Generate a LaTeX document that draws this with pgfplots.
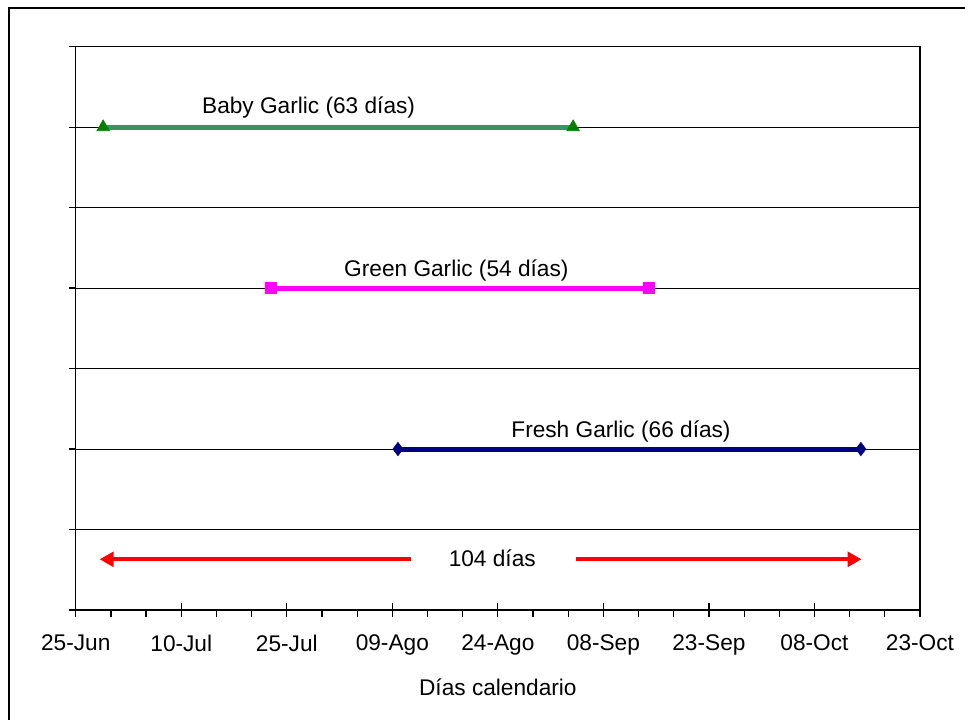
\documentclass[border=0pt]{standalone}
\usepackage{fontspec}
\setmainfont{Liberation Sans}
\usepackage{pgfplots}
\pgfplotsset{compat=1.18}
\usetikzlibrary{arrows.meta}

\definecolor{babyline}{RGB}{51,150,96}
\definecolor{babymark}{RGB}{0,128,0}
\definecolor{navyline}{RGB}{0,0,128}
\definecolor{pinkline}{RGB}{255,0,255}

\begin{document}
\begin{tikzpicture}
% page is 965x720 px at 0.75pt per px
\useasboundingbox (0,0) rectangle (723.75pt,540pt);
\draw[line width=1.6pt] (6.75pt,-2pt) -- (6.75pt,534pt) -- (730pt,534pt);
\begin{axis}[
    at={(56.8pt,82.5pt)}, anchor=south west,
    scale only axis,
    width=633.2pt, height=422.5pt,
    xmin=0, xmax=120, ymin=0, ymax=7,
    xtick={0,15,...,120},
    xticklabels={25-Jun,10-Jul,25-Jul,09-Ago,24-Ago,08-Sep,23-Sep,08-Oct,23-Oct},
    minor x tick num=2,
    extra x ticks={0,15,...,120},
    extra x tick labels={},
    extra x tick style={tick align=inside, major tick length=5pt, grid=none},
    ytick={0,1,...,7},
    yticklabels={},
    xtick pos=bottom, ytick pos=left,
    tick align=outside,
    major tick length=5pt,
    minor tick length=5pt,
    ymajorgrids,
    major grid style={black, line width=0.75pt},
    axis line style={line width=1.1pt},
    every tick/.style={black, line width=0.9pt},
    tick label style={font=\fontsize{17}{19}\selectfont},
    xticklabel style={yshift=-10pt},
    xlabel={Días calendario},
    xlabel style={font=\fontsize{17}{19}\selectfont, yshift=-6pt},
    clip=false,
]
% Baby Garlic
\addplot[babyline, line width=3.8pt, mark=triangle*, mark size=5.4pt,
    mark options={babymark, line width=0.5pt}]
    coordinates {(3.9,6) (70.7,6)};
% Green Garlic
\addplot[pinkline, line width=3.8pt, mark=square*, mark size=4pt,
    mark options={pinkline, line width=0.5pt}]
    coordinates {(27.7,4) (81.5,4)};
% Fresh Garlic
\addplot[navyline, line width=3.8pt, mark=diamond*, mark size=5pt,
    mark options={navyline, line width=0.5pt}]
    coordinates {(45.8,2) (111.6,2)};
% 104 dias arrow
\addplot[red, line width=3.2pt, -{Triangle[length=10.5pt,width=11pt]}]
    coordinates {(47.6,0.63) (3.4,0.63)};
\addplot[red, line width=3.2pt, -{Triangle[length=10.5pt,width=11pt]}]
    coordinates {(71.1,0.63) (111.7,0.63)};

\node[font=\fontsize{17}{19}\selectfont] at (axis cs:33.1,6.25) {Baby Garlic (63 días)};
\node[font=\fontsize{17}{19}\selectfont] at (axis cs:54.1,4.22) {Green Garlic (54 días)};
\node[font=\fontsize{17}{19}\selectfont] at (axis cs:77.5,2.22) {Fresh Garlic (66 días)};
\node[font=\fontsize{17}{19}\selectfont] at (axis cs:59.2,0.64) {104 días};
\end{axis}
\end{tikzpicture}
\end{document}
